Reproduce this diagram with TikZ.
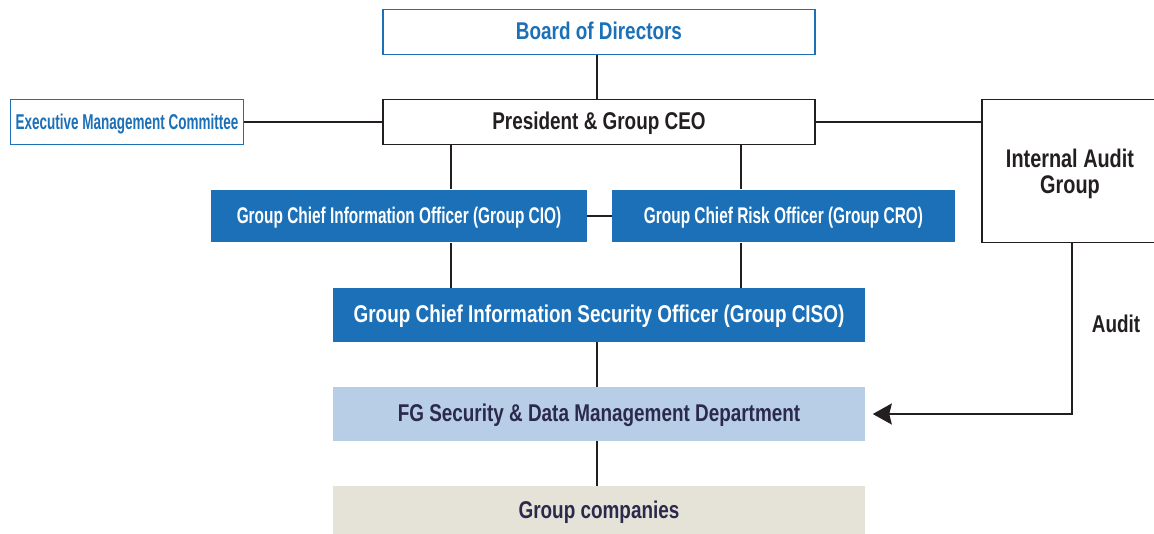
\documentclass[tikz,border=0pt]{standalone}
\usepackage{fontspec}
\setmainfont{Liberation Sans}[FakeStretch=0.78]
\newfontfamily\cndfont{Liberation Sans}[FakeStretch=0.68]
\newfontfamily\xcndfont{Liberation Sans}[FakeStretch=0.63]
\usetikzlibrary{arrows.meta}
\definecolor{fgblue}{HTML}{1B70B8}
\definecolor{fglight}{HTML}{B8CEE6}
\definecolor{fgbeige}{HTML}{E5E2D8}
\definecolor{fgnavy}{HTML}{2B2A4C}
\definecolor{fgline}{HTML}{231F20}
\begin{document}
\begin{tikzpicture}[x=0.02cm,y=-0.02cm,
  every node/.style={font=\bfseries\fontsize{13.8}{15.3}\selectfont,
    inner sep=0pt, align=center, text height=0.8em, text depth=0pt},
  outline/.style={draw=fgline, line width=0.8pt, fill=white, text=fgline},
  blueline/.style={draw=fgblue, line width=0.8pt, fill=white, text=fgblue},
  bluebox/.style={fill=fgblue, text=white},
  link/.style={draw=fgline, line width=1.1pt}]
  \useasboundingbox (0,0) rectangle (1154,534);

  \node[blueline, minimum width=8.64cm, minimum height=0.9cm] (board) at (599,32) {Board of Directors};
  \node[outline, minimum width=8.64cm, minimum height=0.9cm] (ceo) at (599,122) {President \& Group CEO};
  \node[blueline, minimum width=4.66cm, minimum height=0.9cm,
    font=\xcndfont\bfseries\fontsize{12.2}{13}\selectfont] (exec) at (127,122) {Executive Management Committee};
  \node[outline, minimum width=3.52cm, minimum height=2.86cm, text height=25.5pt, text depth=0pt,
    font=\bfseries\fontsize{14.5}{14.7}\selectfont] (audit) at (1070,171) {Internal Audit\\Group};
  \node[bluebox, minimum width=7.52cm, minimum height=1.05cm,
    font=\cndfont\bfseries\fontsize{12.9}{14}\selectfont] (cio) at (399,216) {Group Chief Information Officer (Group CIO)};
  \node[bluebox, minimum width=6.86cm, minimum height=1.05cm,
    font=\cndfont\bfseries\fontsize{12.9}{14}\selectfont] (cro) at (783.5,216) {Group Chief Risk Officer (Group CRO)};
  \node[bluebox, minimum width=10.64cm, minimum height=1.07cm] (ciso) at (599,315) {Group Chief Information Security Officer (Group CISO)};
  \node[fill=fglight, text=fgnavy, minimum width=10.64cm, minimum height=1.07cm] (fg) at (599,414) {FG Security \& Data Management Department};
  \node[fill=fgbeige, text=fgnavy, minimum width=10.64cm, minimum height=1.0cm] (comp) at (599,511) {Group companies};
  \node[text=fgline] (auditlbl) at (1116,325) {Audit};

  \coordinate (midx) at (597,0);
  \coordinate (leftx) at (451,0);
  \coordinate (rightx) at (741,0);
  \coordinate (audx) at (1072,0);

  \draw[link] (board.south -| midx) -- (ceo.north -| midx);
  \draw[link] (exec.east) -- (ceo.west);
  \draw[link] (ceo.east) -- (ceo.east -| audit.west);
  \draw[link] (ceo.south -| leftx) -- (cio.north -| leftx);
  \draw[link] (ceo.south -| rightx) -- (cro.north -| rightx);
  \draw[link] (cio.east) -- (cro.west);
  \draw[link] (cio.south -| leftx) -- (ciso.north -| leftx);
  \draw[link] (cro.south -| rightx) -- (ciso.north -| rightx);
  \draw[link] (ciso.south -| midx) -- (fg.north -| midx);
  \draw[link] (fg.south -| midx) -- (comp.north -| midx);
  \draw[link, -{Stealth[length=0.38cm, width=0.42cm, inset=0.05cm]}]
    (audit.south -| audx) |- ([xshift=0.15cm]fg.east);
\end{tikzpicture}
\end{document}
